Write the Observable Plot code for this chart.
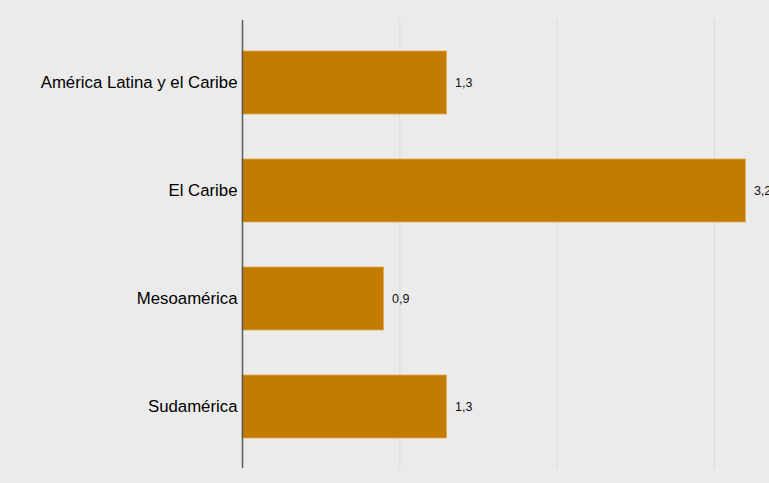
<!DOCTYPE html>
<html>
<head>
<meta charset="utf-8">
<script src="https://cdn.jsdelivr.net/npm/d3@7"></script>
<script src="https://cdn.jsdelivr.net/npm/@observablehq/plot@0.6"></script>
<style>
  html, body { margin: 0; padding: 0; background: #ebebeb; overflow: hidden; }
  #chart svg { display: block; background: #ebebeb; }
</style>
</head>
<body>
<div id="chart"></div>
<script>
const categories = ["América Latina y el Caribe", "El Caribe", "Mesoamérica", "Sudamérica"];
const values = [1.3, 3.2, 0.9, 1.3];
const gridTicks = [1, 2, 3];

const data = categories.map((c, i) => ({category: c, value: values[i]}));
const fmt = v => v.toFixed(1).replace(".", ",");

const chart = Plot.plot({
  width: 769,
  height: 483,
  marginLeft: 242,
  marginRight: 0,
  marginTop: 20,
  marginBottom: 15,
  style: {background: "#ebebeb", fontFamily: "Liberation Sans, Arial, sans-serif", overflow: "visible"},
  x: {domain: [0, 3.35], axis: null},
  y: {domain: categories, paddingInner: 0.42, paddingOuter: 0.28, label: null},
  marks: [
    Plot.ruleX(gridTicks, {stroke: "#d6dcdd", strokeWidth: 1}),
    Plot.barX(data, {x: "value", y: "category", fill: "#c47c00", stroke: "#e3a851", strokeWidth: 0.8}),
    Plot.ruleX([0], {stroke: "#5a5a5a", strokeWidth: 1.5}),
    Plot.text(data, {x: "value", y: "category", text: d => fmt(d.value), dx: 8, textAnchor: "start", fontSize: 12.5, fill: "#111"}),
    Plot.axisY({tickSize: 0, tickPadding: 5, fontSize: 16.8, label: null, color: "#000"})
  ]
});
document.getElementById("chart").appendChild(chart);
</script>
</body>
</html>
